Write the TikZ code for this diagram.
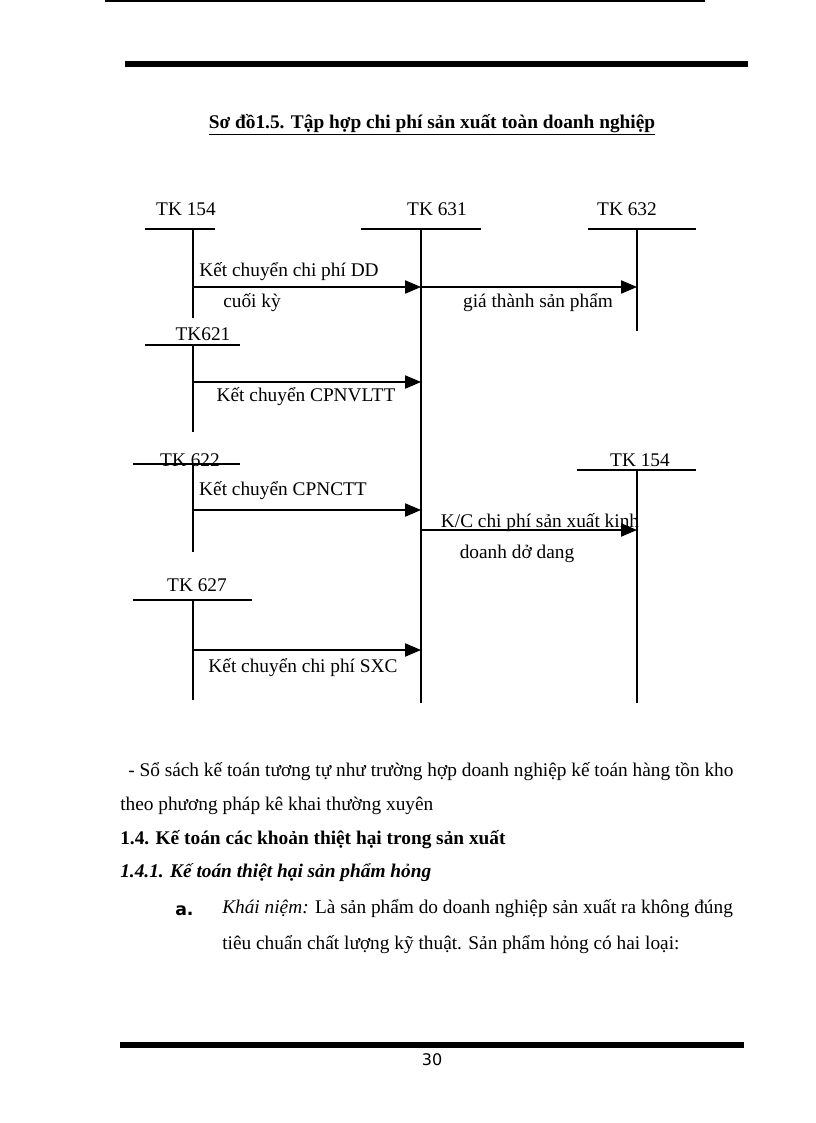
\documentclass[tikz,border=0pt]{standalone}
\usepackage{fontspec}
\setmainfont{Liberation Serif}
\newfontfamily\sansf{DejaVu Sans}
\usetikzlibrary{arrows.meta}
\begin{document}
\begin{tikzpicture}[x=0.75pt,y=-0.75pt,
  lbl/.style={font=\fontsize{14.5}{17}\selectfont,inner sep=0pt},
  para/.style={font=\fontsize{14.5}{17}\selectfont,inner sep=0pt,anchor=west},
  acc/.style={line width=0.8pt},
  arr/.style={line width=0.8pt,-{Triangle[length=12pt,width=10pt]}}]
\useasboundingbox (0,0) rectangle (816,1123);
\draw[line width=1.5pt] (105,1) -- (705,1);
\draw[line width=4pt] (125,64) -- (748,64);
\node[lbl,font=\fontsize{14.5}{17}\selectfont\bfseries] (title) at (432,125) {\underline{Sơ đồ1.5. Tập hợp chi phí sản xuất toàn doanh nghiệp}};
% accounts
\node[lbl] (t154) at (186,209) {TK 154};
\draw[acc] (145,229) -- (215,229); \coordinate (a1) at (193,229); \coordinate (a1e) at (193,318); \draw[acc] (a1) -- (a1e);
\node[lbl] (t631) at (437,209) {TK 631};
\draw[acc] (361,229) -- (481,229); \coordinate (m1) at (421,229); \coordinate (m1e) at (421,703); \draw[acc] (m1) -- (m1e);
\node[lbl] (t632) at (627,209) {TK 632};
\draw[acc] (588,229) -- (696,229); \coordinate (r1) at (637,229); \coordinate (r1e) at (637,331); \draw[acc] (r1) -- (r1e);
\coordinate (p1) at (193,287); \coordinate (q1) at (421,287); \coordinate (s1) at (637,287);
\draw[arr] (p1) -- (q1); \draw[arr] (q1) -- (s1);
\node[lbl] (l1) at (289,272) {Kết chuyển chi phí DD};
\node[lbl] (l1b) at (252,303) {cuối kỳ};
\node[lbl] (l2) at (538,303) {giá thành sản phẩm};
\node[lbl] (t621) at (203,334) {TK621};
\draw[acc] (145,345) -- (240,345); \draw[acc] (193,345) -- (193,432);
\coordinate (p2) at (193,382); \coordinate (q2) at (421,382); \draw[arr] (p2) -- (q2);
\node[lbl] (l3) at (306,397) {Kết chuyển CPNVLTT};
\node[lbl] (t622) at (190,460) {TK 622};
\draw[acc] (133,464) -- (240,464); \draw[acc] (193,464) -- (193,552);
\coordinate (p3) at (193,510); \coordinate (q3) at (421,510); \draw[arr] (p3) -- (q3);
\node[lbl] (l4) at (283,491) {Kết chuyển CPNCTT};
\node[lbl] (t154b) at (640,460) {TK 154};
\draw[acc] (577,470) -- (696,470); \draw[acc] (637,470) -- (637,703);
\coordinate (q4) at (421,530); \coordinate (s4) at (637,530); \draw[arr] (q4) -- (s4);
\node[lbl] (l5) at (540,523) {K/C chi phí sản xuất kinh};
\node[lbl] (l5b) at (517,554) {doanh dở dang};
\node[lbl] (t627) at (197,585) {TK 627};
\draw[acc] (133,600) -- (252,600); \draw[acc] (193,600) -- (193,700);
\coordinate (p5) at (193,650); \coordinate (q5) at (421,650); \draw[arr] (p5) -- (q5);
\node[lbl] (l6) at (303,668) {Kết chuyển chi phí SXC};
% paragraphs
\node[para] (pa) at (128,772) {- Sổ sách kế toán tương tự như trường hợp doanh nghiệp kế toán hàng tồn kho};
\node[para] (pb) at (120,806) {theo phương pháp kê khai thường xuyên};
\node[para,font=\fontsize{14.5}{17}\selectfont\bfseries] (pc) at (120,840) {1.4. Kế toán các khoản thiệt hại trong sản xuất};
\node[para,font=\fontsize{14.5}{17}\selectfont\bfseries\itshape] (pd) at (120,873) {1.4.1. Kế toán thiệt hại sản phẩm hỏng};
\node[para,font=\sansf\fontsize{13}{15}\selectfont\bfseries] (pe) at (175,911) {a.};
\node[para] (pf) at (222,909) {\textit{Khái niệm:} Là sản phẩm do doanh nghiệp sản xuất ra không đúng};
\node[para] (pg) at (222,945) {tiêu chuẩn chất lượng kỹ thuật. Sản phẩm hỏng có hai loại:};
\draw[line width=4pt] (120,1045) -- (744,1045);
\node[lbl,font=\sansf\fontsize{12}{14}\selectfont] (pn) at (432,1060) {30};
\end{tikzpicture}
\end{document}
